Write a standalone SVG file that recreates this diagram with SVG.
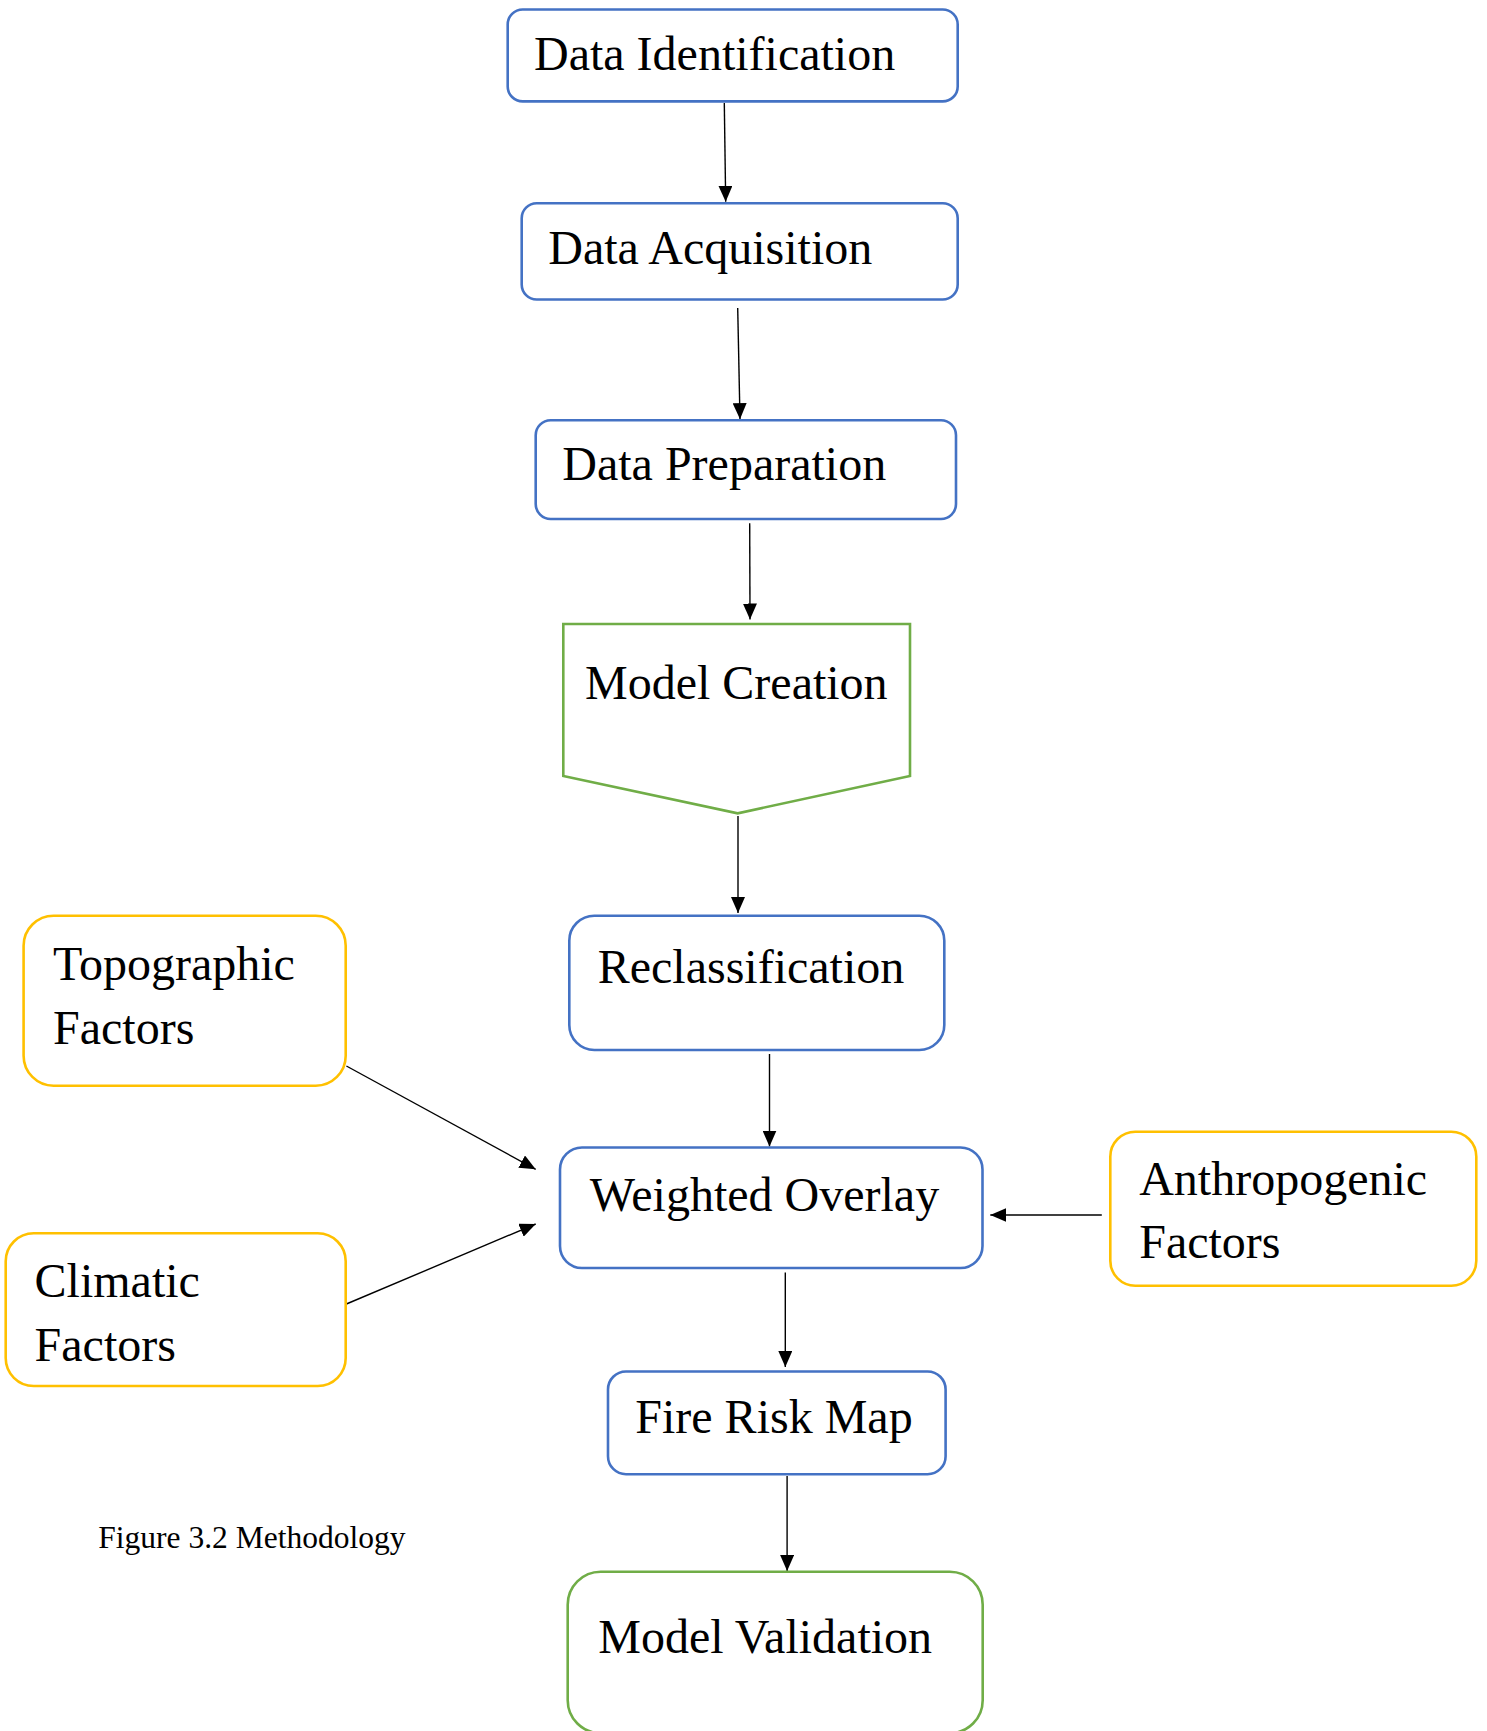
<svg xmlns="http://www.w3.org/2000/svg" width="1487" height="1731" viewBox="0 0 1487 1731">
<style>
.bx{fill:#fff;stroke-width:2.6}
.b{stroke:#4472C4}
.g{stroke:#70AD47}
.y{stroke:#FFC000}
.t{font-family:"Liberation Serif","Times New Roman",serif;font-size:48px;fill:#000}
.cap{font-family:"Liberation Serif","Times New Roman",serif;font-size:31.5px;fill:#000}
.c{fill:none;stroke:#000;stroke-width:1.4;marker-end:url(#ah)}
</style>
<defs>
<marker id="ah" markerUnits="userSpaceOnUse" markerWidth="16" markerHeight="14" refX="16" refY="7" orient="auto">
<path d="M0,0 L16,7 L0,14 z" fill="#000"/>
</marker>
</defs>
<rect width="1487" height="1731" fill="#fff"/>
<g id="connectors">
<line class="c" x1="724.3" y1="103" x2="725.7" y2="201.8"/>
<line class="c" x1="737.7" y1="308" x2="740" y2="419.2"/>
<line class="c" x1="749.7" y1="523.3" x2="750" y2="619.5"/>
<line class="c" x1="738" y1="816" x2="738" y2="913"/>
<line class="c" x1="769.5" y1="1054" x2="769.5" y2="1146.5"/>
<line class="c" x1="346.4" y1="1066" x2="535.7" y2="1169.3"/>
<line class="c" x1="346.4" y1="1304" x2="535.7" y2="1224"/>
<line class="c" x1="1101.8" y1="1215" x2="990.3" y2="1215"/>
<line class="c" x1="785.3" y1="1272.6" x2="785.3" y2="1367"/>
<line class="c" x1="787.1" y1="1476" x2="787.1" y2="1571"/>
</g>
<g id="n-data-identification">
<rect class="bx b" x="507.7" y="9.5" width="450" height="91.9" rx="15"/>
<text class="t" x="534" y="70">Data Identification</text>
</g>
<g id="n-data-acquisition">
<rect class="bx b" x="521.7" y="203.2" width="436" height="96.3" rx="15"/>
<text class="t" x="548.3" y="263.7">Data Acquisition</text>
</g>
<g id="n-data-preparation">
<rect class="bx b" x="535.7" y="420.2" width="420.3" height="98.8" rx="15"/>
<text class="t" x="562.3" y="480">Data Preparation</text>
</g>
<g id="n-model-creation">
<path class="bx g" d="M563.3,624 L910,624 L910,776 L737.7,813.3 L563.3,776 Z"/>
<text class="t" x="585" y="699.3">Model Creation</text>
</g>
<g id="n-reclassification">
<rect class="bx b" x="569.3" y="915.7" width="375" height="134.3" rx="25"/>
<text class="t" x="597.7" y="982.7">Reclassification</text>
</g>
<g id="n-topographic">
<rect class="bx y" x="23.6" y="915.7" width="322.1" height="170" rx="30"/>
<text class="t" x="53" y="980">Topographic</text>
<text class="t" x="53" y="1044">Factors</text>
</g>
<g id="n-climatic">
<rect class="bx y" x="5.7" y="1233.3" width="340" height="152.7" rx="28"/>
<text class="t" x="34.6" y="1297.3">Climatic</text>
<text class="t" x="34.6" y="1360.7">Factors</text>
</g>
<g id="n-weighted-overlay">
<rect class="bx b" x="560" y="1147.5" width="422.5" height="120.5" rx="22"/>
<text class="t" x="589.8" y="1210.5">Weighted Overlay</text>
</g>
<g id="n-anthropogenic">
<rect class="bx y" x="1110.3" y="1131.7" width="366" height="154" rx="25"/>
<text class="t" x="1139.2" y="1195">Anthropogenic</text>
<text class="t" x="1139.2" y="1258.3">Factors</text>
</g>
<g id="n-fire-risk-map">
<rect class="bx b" x="608" y="1371.5" width="337.6" height="102.7" rx="18"/>
<text class="t" x="635.3" y="1432.8">Fire Risk Map</text>
</g>
<g id="n-model-validation">
<rect class="bx g" x="567.7" y="1571.7" width="415" height="161.5" rx="33"/>
<text class="t" x="598.3" y="1652.7">Model Validation</text>
</g>
<g id="caption">
<text class="cap" x="98.3" y="1548.3">Figure 3.2 Methodology</text>
</g>
</svg>
